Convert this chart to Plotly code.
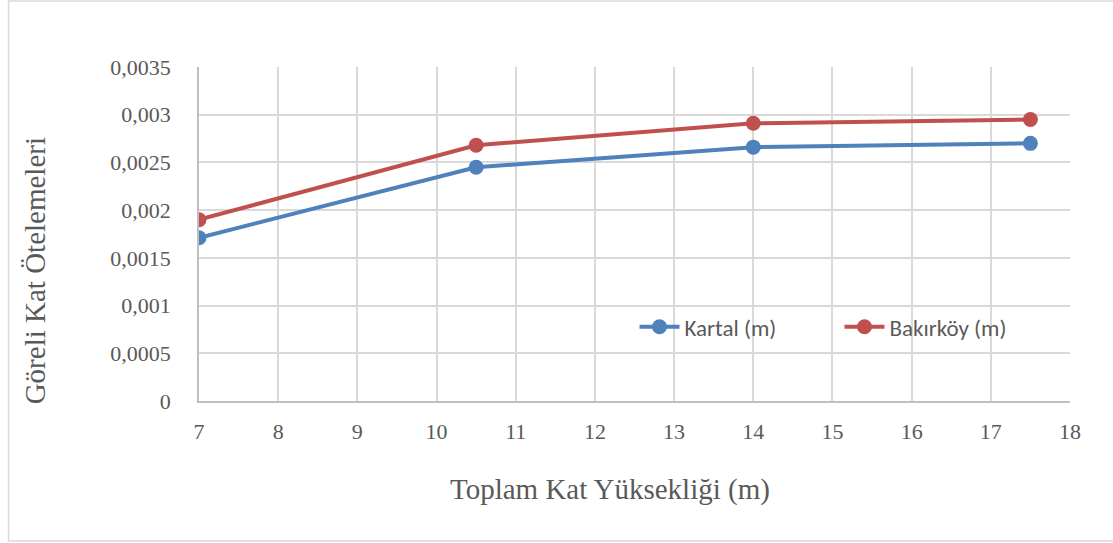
import plotly.graph_objects as go

x_vals = [7, 10.5, 14, 17.5]
kartal = [0.00171, 0.00245, 0.00266, 0.00270]
bakirkoy = [0.00190, 0.00268, 0.00291, 0.00295]
series_names = ["Kartal (m)", "Bakırköy (m)"]
colors = ["#4f81bd", "#c0504d"]
y_ticks = [0, 0.0005, 0.001, 0.0015, 0.002, 0.0025, 0.003, 0.0035]
y_ticktext = ["0", "0,0005", "0,001", "0,0015", "0,002", "0,0025", "0,003", "0,0035"]
x_ticks = list(range(7, 19))
x_title = "Toplam Kat Yüksekliği (m)"
y_title = "Göreli Kat Ötelemeleri"

fig = go.Figure()
for name, vals, c in zip(series_names, [kartal, bakirkoy], colors):
    fig.add_trace(go.Scatter(x=x_vals, y=vals, name=name, mode="lines+markers",
                             line=dict(color=c, width=4),
                             marker=dict(color=c, size=15)))

serif = "Liberation Serif, Times New Roman, serif"
fig.update_layout(
    width=1113, height=543,
    margin=dict(l=199, r=43, t=67, b=142),
    paper_bgcolor="white", plot_bgcolor="white",
    showlegend=True,
    legend=dict(orientation="h", x=0.5, y=0.222, xanchor="left", yanchor="middle",
                font=dict(family="Carlito, Lato, sans-serif", size=23, color="#595959"),
                bgcolor="rgba(255,255,255,0)", itemwidth=40,
                entrywidth=150, entrywidthmode="pixels"),
    xaxis=dict(range=[7, 18], tickvals=x_ticks, showgrid=True, gridcolor="#d9d9d9", gridwidth=1.5,
               showline=True, linecolor="#bfbfbf", linewidth=1.5, zeroline=False,
               ticks="", ticklabelstandoff=10,
               tickfont=dict(family=serif, size=22, color="#595959")),
    yaxis=dict(range=[0, 0.0035], tickvals=y_ticks, ticktext=y_ticktext,
               showgrid=True, gridcolor="#d9d9d9", gridwidth=1.5,
               showline=True, linecolor="#bfbfbf", linewidth=1.5, zeroline=False,
               ticks="", ticklabelstandoff=22,
               tickfont=dict(family=serif, size=22, color="#595959")),
)
fig.add_annotation(text=x_title, xref="paper", yref="paper", x=0.472, y=-0.266,
                   showarrow=False, xanchor="center", yanchor="middle",
                   font=dict(family=serif, size=29, color="#595959"))
fig.add_annotation(text=y_title, xref="paper", yref="paper", x=-0.188, y=0.389,
                   showarrow=False, xanchor="center", yanchor="middle", textangle=-90,
                   font=dict(family=serif, size=29, color="#595959"))
fig.add_shape(type="rect", xref="paper", yref="paper",
              x0=-0.2187, x1=1.0517, y0=-0.419, y1=1.1976,
              line=dict(color="#d9d9d9", width=1.5), layer="below")

fig.write_html("out.html", config={"displayModeBar": False},
               post_script="document.body.style.margin='0';")
